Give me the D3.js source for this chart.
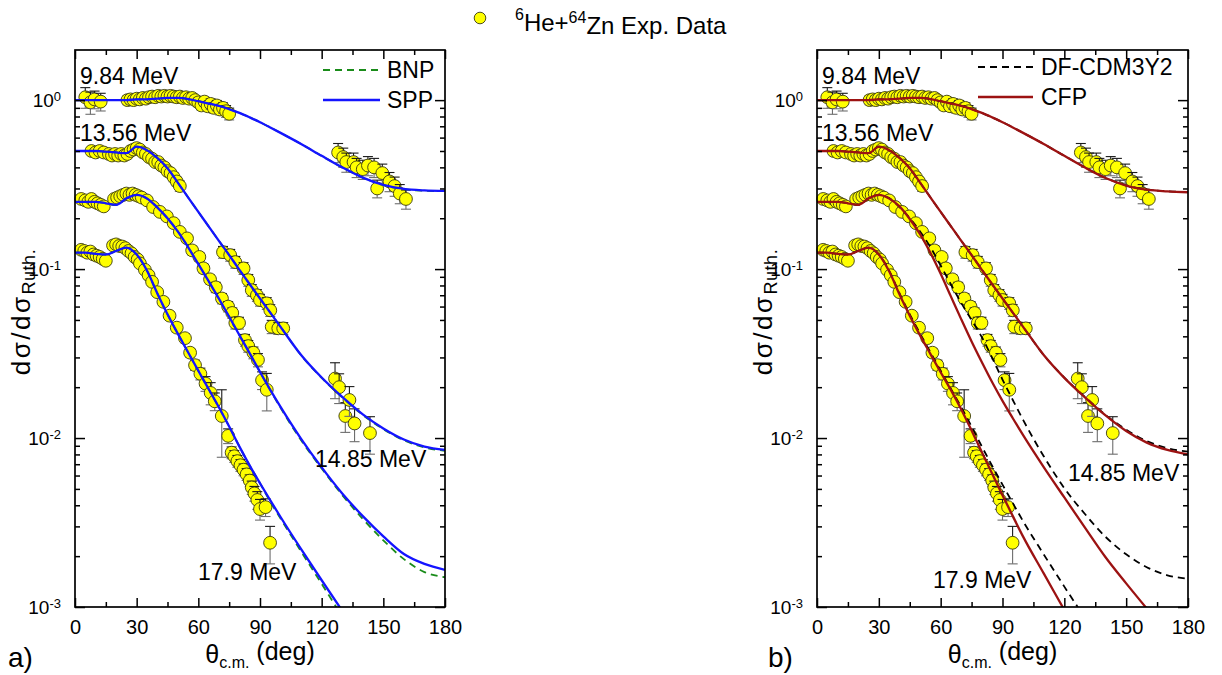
<!DOCTYPE html>
<html><head><meta charset="utf-8">
<script src="https://cdn.jsdelivr.net/npm/d3@7"></script>
<style>
body{margin:0;background:#fff}
svg text{font-family:"Liberation Sans",Arial,Helvetica,sans-serif;fill:#000}
</style></head>
<body><svg id="c" width="1222" height="675"></svg>
<script>
// ---------------- DATA ----------------
const thetaGrid=[0,5,10,15,20,25,30,35,40,45,50,55,60,65,70,75,80,85,90,95,100,110,120,130,140,150,160,170,180];

// left panel a): BNP (dashed green) and SPP (solid blue)
const spp984 =[1.0,1.0,1.0,1.0,1.0,1.0,1.01,1.01,1.02,1.03,1.03,1.015,0.985,0.955,0.925,0.885,0.84,0.79,0.74,0.689,0.64,0.55,0.468,0.40,0.348,0.315,0.298,0.292,0.29];
const bnp984 =[1.0,1.0,1.0,1.0,1.0,1.0,1.01,1.01,1.02,1.03,1.03,1.015,0.985,0.955,0.925,0.885,0.84,0.79,0.74,0.689,0.64,0.55,0.468,0.40,0.348,0.314,0.297,0.291,0.289];
const spp1356=[0.5,0.5,0.5,0.495,0.49,0.485,0.53,0.505,0.455,0.395,0.325,0.266,0.218,0.179,0.147,0.121,0.099,0.0813,0.067,0.0552,0.0455,0.031,0.0228,0.0175,0.0138,0.0114,0.0098,0.0089,0.0085];
const bnp1356=[0.5,0.5,0.5,0.495,0.49,0.485,0.53,0.505,0.455,0.395,0.325,0.266,0.218,0.179,0.147,0.121,0.099,0.0813,0.067,0.0552,0.0455,0.0309,0.0227,0.0174,0.0137,0.0113,0.0097,0.0088,0.0084];
const spp1485=[0.25,0.25,0.25,0.245,0.24,0.262,0.275,0.262,0.232,0.2,0.167,0.135,0.107,0.0849,0.0668,0.0522,0.0406,0.0317,0.0246,0.0193,0.0153,0.0099,0.0067,0.0047,0.00345,0.00262,0.00206,0.0018,0.00166];
const bnp1485=[0.25,0.25,0.25,0.245,0.24,0.262,0.275,0.262,0.232,0.2,0.167,0.135,0.107,0.0849,0.0668,0.0522,0.0406,0.0317,0.0246,0.0192,0.0151,0.0097,0.0066,0.0046,0.00332,0.00248,0.00192,0.00161,0.0015];
const spp179 =[0.125,0.125,0.123,0.122,0.128,0.134,0.122,0.098,0.072,0.054,0.0415,0.0322,0.025,0.0195,0.0152,0.0117,0.0089,0.00687,0.0054,0.00428,0.00341,0.0022,0.00144,0.00095,0.00063,0.00042,0.00028,0.00019,0.00013];
const bnp179 =[0.125,0.125,0.123,0.122,0.128,0.134,0.122,0.098,0.072,0.054,0.0415,0.0322,0.025,0.0195,0.0152,0.0117,0.0089,0.00687,0.0054,0.0042,0.00334,0.00213,0.00137,0.00088,0.00057,0.00037,0.00024,0.00016,0.00011];

// right panel b): DF-CDM3Y2 (dashed black) and CFP (solid dark red)
const df984  =[1.0,1.0,1.0,1.0,1.0,1.0,1.01,1.01,1.02,1.03,1.03,1.015,0.985,0.955,0.925,0.885,0.84,0.79,0.74,0.689,0.64,0.55,0.468,0.40,0.347,0.313,0.296,0.289,0.286];
const cfp984 =[1.0,1.0,1.0,1.0,1.0,1.0,1.01,1.01,1.02,1.03,1.03,1.015,0.985,0.955,0.925,0.885,0.84,0.79,0.74,0.689,0.64,0.55,0.468,0.399,0.346,0.312,0.295,0.288,0.285];
const df1356 =[0.5,0.5,0.5,0.495,0.49,0.485,0.53,0.505,0.455,0.395,0.325,0.266,0.218,0.179,0.147,0.121,0.099,0.0813,0.067,0.0552,0.0455,0.031,0.0228,0.0175,0.0137,0.0112,0.0096,0.0087,0.0083];
const cfp1356=[0.5,0.5,0.5,0.495,0.49,0.485,0.53,0.505,0.455,0.395,0.325,0.266,0.218,0.179,0.147,0.121,0.099,0.0813,0.067,0.0552,0.0455,0.031,0.0227,0.0174,0.0136,0.011,0.0094,0.0085,0.008];
const df1485 =[0.25,0.25,0.25,0.245,0.24,0.262,0.275,0.263,0.233,0.2,0.167,0.135,0.105,0.081,0.063,0.05,0.0395,0.0298,0.0222,0.0168,0.0128,0.0078,0.00505,0.00355,0.0026,0.00205,0.00172,0.00154,0.00147];
const cfp1485=[0.25,0.25,0.25,0.245,0.24,0.262,0.275,0.262,0.235,0.198,0.161,0.125,0.0938,0.0687,0.0504,0.0373,0.0281,0.0214,0.0166,0.0131,0.0104,0.00673,0.00445,0.00295,0.00197,0.00138,0.00098,0.0007,0.0005];
const df179  =[0.125,0.125,0.123,0.122,0.128,0.134,0.122,0.098,0.072,0.054,0.0415,0.0322,0.025,0.0195,0.0152,0.0117,0.0089,0.00684,0.0053,0.00412,0.00322,0.00205,0.00132,0.00086,0.00056,0.00037,0.00024,0.00016,0.0001];
const cfp179 =[0.125,0.125,0.123,0.122,0.128,0.134,0.122,0.097,0.071,0.053,0.0405,0.0315,0.0245,0.0192,0.01476,0.01107,0.00824,0.00614,0.00459,0.00345,0.00261,0.00158,0.00096,0.00058,0.00035,0.00021,0.00013,0.00008,0.00005];

// experimental data [theta, sigma/sigmaRuth (scaled), relative error]
const exp984=[[5,1.04,0.14],[7.5,0.97,0.15],[9.5,1.01,0.12],[12.5,0.98,0.12],
 [25.5,1.0,0.06],[27,1.01,0.06],[28.5,1.0,0.06],[30,1.02,0.05],[31.5,1.01,0.05],[33,1.03,0.05],[34.5,1.02,0.05],[36,1.04,0.05],[37.5,1.05,0.05],[39,1.04,0.05],[40.5,1.06,0.05],[42,1.05,0.05],[43.5,1.06,0.05],[45,1.05,0.05],[46.5,1.06,0.05],[48,1.05,0.05],[49.5,1.04,0.05],[51,1.05,0.05],[52.5,1.03,0.05],[54,1.04,0.05],[55.5,1.02,0.05],[57,1.03,0.06],[58.5,1.0,0.06],[60,0.97,0.06],[61.5,0.93,0.06],[63,0.98,0.06],[64.5,0.92,0.06],[66,0.95,0.07],[67.5,0.9,0.07],[69,0.93,0.07],[70.5,0.88,0.07],[72,0.9,0.07],[73.5,0.86,0.08],[75,0.83,0.08],
 [128,0.49,0.13],[130.5,0.46,0.13],[132,0.43,0.13],[135.5,0.43,0.13],[137,0.40,0.13],[140,0.39,0.13],[142.5,0.41,0.13],[145.5,0.40,0.13],[147,0.30,0.12],[149.5,0.37,0.13],[153,0.33,0.13],[155.5,0.31,0.13],[158,0.28,0.13],[161,0.26,0.13]];
const exp1356=[[8,0.5,0.05],[10,0.49,0.05],[12,0.5,0.05],[14,0.49,0.05],[16.5,0.48,0.04],[18,0.47,0.04],[19.5,0.48,0.04],[21,0.47,0.04],[22.5,0.48,0.04],[24,0.47,0.04],[25.5,0.48,0.04],[27,0.5,0.04],[28.5,0.51,0.04],[30,0.52,0.04],[31.5,0.51,0.04],[33,0.49,0.05],[34.5,0.48,0.05],[36,0.46,0.05],[37.5,0.45,0.05],[39,0.43,0.05],[40.5,0.43,0.05],[42,0.41,0.05],[43.5,0.40,0.05],[45,0.38,0.05],[46.5,0.37,0.05],[48,0.35,0.06],[49.5,0.33,0.06],[51,0.31,0.07],
 [72,0.126,0.08],[75.5,0.121,0.08],[78,0.110,0.08],[82,0.101,0.08],[84.3,0.086,0.08],[86,0.075,0.08],[88.5,0.070,0.08],[90,0.0656,0.08],[93.3,0.0627,0.08],[95,0.057,0.08],[95.7,0.0456,0.09],[98.9,0.0446,0.08],[101.3,0.0446,0.08],
 [126.5,0.0225,0.24],[128.5,0.0200,0.2],[131.5,0.0135,0.2],[133.5,0.0168,0.2],[136,0.0122,0.22],[143.5,0.0107,0.25]];
const exp1485=[[3,0.26,0.05],[5,0.255,0.05],[6.5,0.25,0.05],[8,0.26,0.05],[9.5,0.25,0.05],[11,0.245,0.05],[12.5,0.24,0.05],[14,0.235,0.05],
 [19,0.26,0.04],[20.5,0.265,0.04],[22,0.27,0.04],[23.5,0.275,0.04],[25,0.28,0.04],[26.5,0.275,0.04],[28,0.28,0.04],[29.5,0.275,0.04],[31,0.27,0.04],[32.5,0.265,0.04],
 [35,0.255,0.05],[38,0.233,0.05],[41.3,0.218,0.05],[44.7,0.205,0.05],[48,0.187,0.05],[51,0.166,0.05],[54.5,0.152,0.05],[57,0.129,0.06],[60.5,0.118,0.06],[62.5,0.101,0.06],[65.7,0.087,0.06],[68.5,0.078,0.07],[71.5,0.067,0.07],[74.5,0.060,0.07],[76.5,0.055,0.07],[78,0.048,0.08],[79.8,0.048,0.08],[82.7,0.038,0.08],[84.3,0.035,0.08],[86.8,0.032,0.08],[89,0.029,0.09],[91,0.022,0.12],[93.3,0.0193,0.25]];
const exp179=[[3,0.13,0.05],[4.5,0.128,0.05],[6,0.125,0.05],[7.5,0.127,0.05],[9,0.122,0.05],[10.5,0.12,0.05],[12,0.118,0.05],[13.5,0.115,0.05],[15,0.112,0.05],
 [18.5,0.138,0.04],[20,0.14,0.04],[21.5,0.137,0.04],[23,0.136,0.04],[24.5,0.133,0.04],[26,0.128,0.04],[27.5,0.124,0.04],[29,0.118,0.04],[30.5,0.114,0.04],[31.6,0.108,0.04],[34,0.099,0.05],[35.8,0.092,0.05],[37.5,0.084,0.05],[40,0.073,0.05],[43,0.064,0.05],[46,0.053,0.05],[49.5,0.045,0.06],[53.5,0.039,0.06],[56,0.032,0.06],[58.4,0.027,0.07],[61,0.024,0.08],[63.5,0.021,0.1],[66,0.0185,0.15],[68,0.0165,0.12],[71.4,0.0135,0.43],[74.5,0.0103,0.1],[76.2,0.0082,0.08],[77.5,0.0078,0.08],[79,0.0073,0.08],[80.5,0.0069,0.08],[82,0.0065,0.08],[83.5,0.0061,0.08],[85,0.0056,0.08],[86,0.0051,0.09],[87.3,0.0047,0.1],[88.7,0.0043,0.12],[90,0.0038,0.14],[92.7,0.0039,0.12],[94.9,0.0024,0.25]];

const xTicksMajor=[0,30,60,90,120,150,180];
const xTicksMinor=[15,45,75,105,135,165];
const yTicksMajor=[1e-3,1e-2,1e-1,1];
const yTickExp=["-3","-2","-1","0"];
const energyLabels=["9.84 MeV","13.56 MeV","14.85 MeV","17.9 MeV"];
const legendLeft=["BNP","SPP"];
const legendRight=["DF-CDM3Y2","CFP"];
const panelLabels=["a)","b)"];

// ---------------- DRAW ----------------
const svg=d3.select("#c");
const Y0=50,Y1=607;
const yMinor=[];
[-3,-2,-1,0].forEach(e=>{for(let k=2;k<=9;k++){const v=k*Math.pow(10,e); if(v<1.98) yMinor.push(v);}});

const GREEN="#1a8c1a",BLUE="#1414ff",DRED="#9c1212";
const panels=[
 {x0:75,x1:445,label:panelLabels[0],labelX:8,
  curves:[
   {v:bnp984,c:GREEN,dash:"7,5",w:1.8},{v:bnp1356,c:GREEN,dash:"7,5",w:1.8},{v:bnp1485,c:GREEN,dash:"7,5",w:1.8},{v:bnp179,c:GREEN,dash:"7,5",w:1.8},
   {v:spp984,c:BLUE,dash:null,w:2.3},{v:spp1356,c:BLUE,dash:null,w:2.3},{v:spp1485,c:BLUE,dash:null,w:2.3},{v:spp179,c:BLUE,dash:null,w:2.3}],
  legend:[{t:legendLeft[0],c:GREEN,dash:"7,5",w:1.8,y:70},{t:legendLeft[1],c:BLUE,dash:null,w:2.3,y:100}],
  legX0:323,legX1:380,legTx:387,
  elab:[{t:energyLabels[0],x:80,y:84},{t:energyLabels[1],x:80,y:141},{t:energyLabels[2],x:315,y:467},{t:energyLabels[3],x:198,y:580}]},
 {x0:817,x1:1188,label:panelLabels[1],labelX:768,
  curves:[
   {v:df984,c:"#000",dash:"7,5",w:1.8},{v:df1356,c:"#000",dash:"7,5",w:1.8},{v:df1485,c:"#000",dash:"7,5",w:1.8},{v:df179,c:"#000",dash:"7,5",w:1.8},
   {v:cfp984,c:DRED,dash:null,w:2.3},{v:cfp1356,c:DRED,dash:null,w:2.3},{v:cfp1485,c:DRED,dash:null,w:2.3},{v:cfp179,c:DRED,dash:null,w:2.3}],
  legend:[{t:legendRight[0],c:"#000",dash:"7,5",w:1.8,y:67},{t:legendRight[1],c:DRED,dash:null,w:2.3,y:97}],
  legX0:978,legX1:1033,legTx:1041,
  elab:[{t:energyLabels[0],x:822,y:84},{t:energyLabels[1],x:822,y:141},{t:energyLabels[2],x:1068,y:481},{t:energyLabels[3],x:933,y:588}]}
];

const datasets=[exp984,exp1356,exp1485,exp179];

panels.forEach((p,pi)=>{
 const x=d3.scaleLinear().domain([0,180]).range([p.x0,p.x1]);
 const y=d3.scaleLog().domain([1e-3,1.98]).range([Y1,Y0]);
 const g=svg.append("g");
 const cid="clip"+pi;
 svg.append("clipPath").attr("id",cid).append("rect")
   .attr("x",p.x0).attr("y",Y0).attr("width",p.x1-p.x0).attr("height",Y1-Y0);

 // data points with error bars
 const dg=g.append("g");
 datasets.forEach(ds=>{
  const pts=dg.selectAll(null).data(ds).join("g");
  pts.append("line").attr("x1",d=>x(d[0])).attr("x2",d=>x(d[0]))
    .attr("y1",d=>y(d[1])).attr("y2",d=>y(d[1]*(1-d[2]))).attr("stroke","#6e6e6e").attr("stroke-width",1.1);
  pts.append("line").attr("x1",d=>x(d[0])-5).attr("x2",d=>x(d[0])+5)
    .attr("y1",d=>y(d[1]*(1-d[2]))).attr("y2",d=>y(d[1]*(1-d[2]))).attr("stroke","#6e6e6e").attr("stroke-width",1.1);
  pts.append("line").attr("x1",d=>x(d[0])).attr("x2",d=>x(d[0]))
    .attr("y1",d=>y(d[1])).attr("y2",d=>y(d[1]*(1+d[2]))).attr("stroke","#1a1a1a").attr("stroke-width",1.1);
  pts.append("line").attr("x1",d=>x(d[0])-5).attr("x2",d=>x(d[0])+5)
    .attr("y1",d=>y(d[1]*(1+d[2]))).attr("y2",d=>y(d[1]*(1+d[2]))).attr("stroke","#1a1a1a").attr("stroke-width",1.1);
  pts.append("circle").attr("cx",d=>x(d[0])).attr("cy",d=>y(d[1])).attr("r",6.4)
    .attr("fill","#ffff00").attr("stroke","#3a3a10").attr("stroke-width",0.9);
 });

 // model curves
 const line=d3.line().x((d,i)=>x(thetaGrid[i])).y(d=>y(d)).curve(d3.curveMonotoneX);
 const cg=g.append("g").attr("clip-path","url(#"+cid+")");
 p.curves.forEach(c=>{
  cg.append("path").attr("d",line(c.v)).attr("fill","none").attr("stroke",c.c)
    .attr("stroke-width",c.w).attr("stroke-dasharray",c.dash);
 });

 // axes
 const ax=g.append("g").attr("class","axes");
 const styleAxis=s=>{s.select(".domain").remove(); s.selectAll("line").attr("stroke","#000").attr("stroke-width",1.5);};
 ax.append("g").attr("transform","translate(0,"+Y1+")")
   .call(d3.axisBottom(x).tickValues(xTicksMajor).tickSize(-9).tickPadding(13).tickFormat(d3.format("d")))
   .call(styleAxis).call(s=>s.selectAll("text").attr("font-size",20).attr("font-family",null));
 ax.append("g").attr("transform","translate(0,"+Y1+")")
   .call(d3.axisBottom(x).tickValues(xTicksMinor).tickSize(-5).tickFormat("")).call(styleAxis);
 ax.append("g").attr("transform","translate(0,"+Y0+")")
   .call(d3.axisTop(x).tickValues(xTicksMajor).tickSize(-9).tickFormat("")).call(styleAxis);
 ax.append("g").attr("transform","translate(0,"+Y0+")")
   .call(d3.axisTop(x).tickValues(xTicksMinor).tickSize(-5).tickFormat("")).call(styleAxis);
 const yl=ax.append("g").attr("transform","translate("+p.x0+",0)")
   .call(d3.axisLeft(y).tickValues(yTicksMajor).tickSize(-10).tickPadding(14).tickFormat(()=>""))
   .call(styleAxis);
 yl.selectAll(".tick text").each(function(d){
   const t=d3.select(this).attr("font-size",19).attr("font-family",null).attr("dy","0.36em");
   t.append("tspan").text("10");
   t.append("tspan").attr("dy","-0.5em").attr("font-size",13).text(yTickExp[yTicksMajor.indexOf(d)]);
 });
 ax.append("g").attr("transform","translate("+p.x0+",0)")
   .call(d3.axisLeft(y).tickValues(yMinor).tickSize(-5).tickFormat("")).call(styleAxis);
 ax.append("g").attr("transform","translate("+p.x1+",0)")
   .call(d3.axisRight(y).tickValues(yTicksMajor).tickSize(-10).tickFormat("")).call(styleAxis);
 ax.append("g").attr("transform","translate("+p.x1+",0)")
   .call(d3.axisRight(y).tickValues(yMinor).tickSize(-5).tickFormat("")).call(styleAxis);
 g.append("rect").attr("x",p.x0).attr("y",Y0).attr("width",p.x1-p.x0).attr("height",Y1-Y0)
   .attr("fill","none").attr("stroke","#000").attr("stroke-width",1.7);

 // energy labels
 p.elab.forEach(e=>g.append("text").attr("x",e.x).attr("y",e.y).attr("font-size",23).text(e.t));

 // legend
 p.legend.forEach(l=>{
  g.append("line").attr("x1",p.legX0).attr("x2",p.legX1).attr("y1",l.y).attr("y2",l.y)
   .attr("stroke",l.c).attr("stroke-width",l.w).attr("stroke-dasharray",l.dash);
  g.append("text").attr("x",p.legTx).attr("y",l.y+8).attr("font-size",23).text(l.t);
 });

 // axis titles
 const xt=g.append("text").attr("x",(p.x0+p.x1)/2).attr("y",663).attr("text-anchor","middle").attr("font-size",25);
 xt.append("tspan").text("θ");
 xt.append("tspan").attr("dy","0.3em").attr("font-size",16).text("c.m.");
 xt.append("tspan").attr("dy","-0.3em").text(" (deg)");
 const yt=g.append("text").attr("transform","translate("+(p.x0-45)+",312) rotate(-90)")
   .attr("text-anchor","middle").attr("font-size",26);
 yt.append("tspan").attr("letter-spacing",2.5).text("dσ/dσ");
 yt.append("tspan").attr("dy","0.3em").attr("font-size",18).attr("letter-spacing",0.5).text("Ruth.");

 g.append("text").attr("x",p.labelX).attr("y",667).attr("font-size",28).text(p.label);
});

// top legend for experimental data
const tl=svg.append("g");
tl.append("circle").attr("cx",480).attr("cy",18).attr("r",5.8).attr("fill","#ffff00").attr("stroke","#3a3a10").attr("stroke-width",0.9);
const tt=tl.append("text").attr("x",515).attr("y",27).attr("font-size",24);
tt.append("tspan").attr("dy","-0.45em").attr("font-size",16).text("6");
tt.append("tspan").attr("dy","0.45em").text("He+");
tt.append("tspan").attr("dy","-0.45em").attr("font-size",16).text("64");
tt.append("tspan").attr("dy","0.45em").text("Zn Exp. Data");
</script></body></html>
